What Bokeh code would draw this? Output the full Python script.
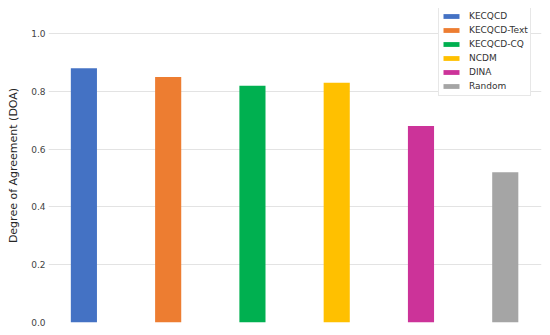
from bokeh.plotting import figure
from bokeh.models import ColumnDataSource, Range1d, FixedTicker, NumeralTickFormatter, Legend, LegendItem
from bokeh.embed import file_html
from bokeh.resources import INLINE

models = ["KECQCD", "KECQCD-Text", "KECQCD-CQ", "NCDM", "DINA", "Random"]
doa = [0.88, 0.85, 0.82, 0.83, 0.68, 0.52]
colors = ["#4472C4", "#ED7D31", "#00B050", "#FFC000", "#CC3399", "#A5A5A5"]
yticks = [0.0, 0.2, 0.4, 0.6, 0.8, 1.0]

src = ColumnDataSource(dict(x=list(range(len(models))), top=doa, color=colors, model=models))

p = figure(width=550, height=335, output_backend="svg", toolbar_location=None,
           x_range=Range1d(-0.42, 5.43), y_range=Range1d(0, 1.087),
           min_border_left=48, min_border_right=9, min_border_top=8, min_border_bottom=13)

r = p.vbar(x="x", top="top", width=0.31, bottom=0, color="color", line_color=None, source=src)

p.xaxis.visible = False
p.xgrid.visible = False
p.ygrid.grid_line_color = "#e3e3e3"
p.ygrid.grid_line_width = 1
p.outline_line_color = None

ya = p.yaxis[0]
ya.ticker = FixedTicker(ticks=yticks)
ya.formatter = NumeralTickFormatter(format="0.0")
ya.axis_line_color = None
ya.major_tick_line_color = None
ya.minor_tick_line_color = None
ya.major_tick_out = 0
ya.major_tick_in = 0
ya.major_label_standoff = 3
ya.major_label_text_font = "DejaVu Sans"
ya.major_label_text_font_size = "9px"
ya.major_label_text_color = "#444444"
ya.axis_label = "Degree of Agreement (DOA)"
ya.axis_label_text_font = "DejaVu Sans"
ya.axis_label_text_font_size = "11px"
ya.axis_label_text_font_style = "normal"
ya.axis_label_text_color = "#262626"
ya.axis_label_standoff = 8

items = [LegendItem(label=m, renderers=[r], index=i) for i, m in enumerate(models)]
legend = Legend(items=items, location=(390, 226), margin=0, padding=2, spacing=0,
                label_height=14, glyph_height=6, glyph_width=20, label_standoff=8,
                label_text_font="DejaVu Sans", label_text_font_size="9px",
                label_text_color="#333333", border_line_color="#d0d0d0",
                border_line_width=1, background_fill_alpha=1.0)
p.add_layout(legend, "center")

open("out.html", "w").write(file_html(p, INLINE))
